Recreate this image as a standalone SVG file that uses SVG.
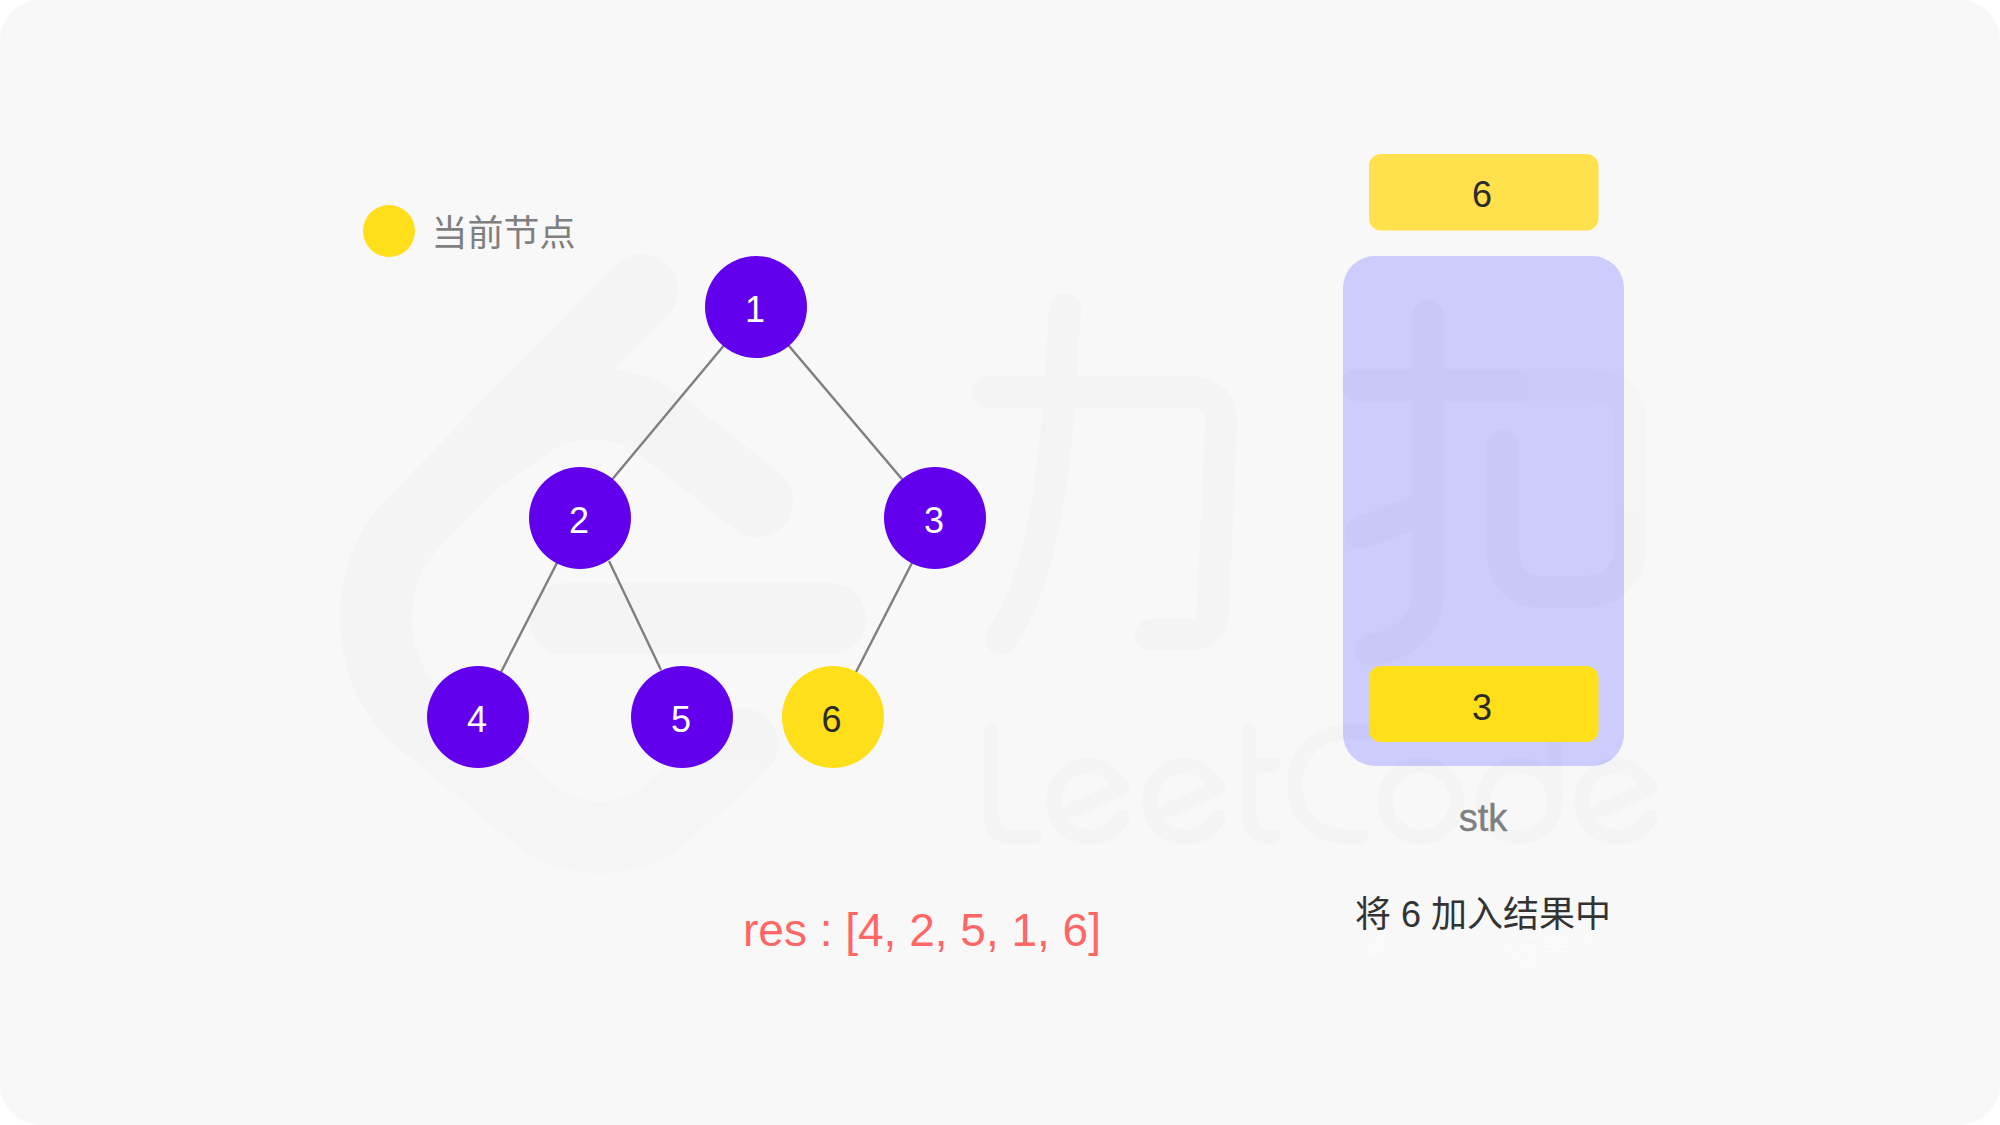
<svg xmlns="http://www.w3.org/2000/svg" width="2000" height="1125" viewBox="0 0 2000 1125">
<style>
.wm{fill:none;stroke:#000;stroke-linecap:round;stroke-linejoin:round}
.edge{stroke:#7f7f7f;stroke-width:2.4;fill:none}
.t{font-family:"Liberation Sans","Noto Sans CJK SC",sans-serif;text-anchor:middle}
.n{font-size:36px;fill:#fff}
.d{font-size:36px;fill:#2b2b2b}
.purple{fill:#6200ee}
.yellow{fill:#ffde1a}
</style>
<rect width="2000" height="1125" fill="#fff"/>
<rect id="background" width="2000" height="1125" rx="40" fill="#f8f8f8"/>
<g id="stack-body"><rect x="1343" y="256" width="281" height="510" rx="32" fill="#ccccfd"/></g>
<g id="watermark" opacity="0.013">
<g class="wm" stroke-width="72">
<path d="M642 290L412 524C364 572 364 664 412 712L530 810C570 847 630 847 670 810L742 744"/>
<path d="M757 501L672 434C630 395 565 395 530 422L490 450"/>
<path d="M565 619H830"/>
</g>
<g class="wm" stroke-width="32">
<path d="M988 392H1190Q1222 392 1221 425L1213 610Q1212 635 1190 635H1151"/>
<path d="M1065 309L1058 416C1050 510 1035 590 1001 638"/>
<path d="M1361 533L1428 507"/>
<path d="M1428 316V590Q1428 640 1371 650"/>
<path d="M1357 385H1590Q1631 385 1631 425V540Q1631 592 1580 592H1545Q1503 592 1503 550V446"/>
</g>
<g class="wm" stroke-width="15">
<path d="M991 732V814Q991 837 1012 837H1034"/>
<path id="e1" d="M1068 812L1122 788C1112 772 1102 765 1089 765C1068 765 1054 781 1054 801C1054 821 1068 837 1089 837C1105 837 1116 830 1122 817"/>
<path d="M1164 812L1218 788C1208 772 1198 765 1185 765C1164 765 1150 781 1150 801C1150 821 1164 837 1185 837C1201 837 1212 830 1218 817"/>
<path d="M1249 732V814Q1249 837 1270 837H1273M1249 765H1273"/>
<path d="M1368 732H1350C1315 732 1295 755 1295 785C1295 815 1315 837 1350 837H1361"/>
<circle cx="1421" cy="801" r="36"/>
<circle cx="1519" cy="801" r="36"/>
<path d="M1555 732V801"/>
<path d="M1596 812L1650 788C1640 772 1630 765 1617 765C1596 765 1582 781 1582 801C1582 821 1596 837 1617 837C1633 837 1644 830 1650 817"/>
</g>
</g>
<g id="connectors">
<line class="edge" x1="756" y1="307" x2="580" y2="518"/>
<line class="edge" x1="756" y1="307" x2="935" y2="518"/>
<line class="edge" x1="580" y1="518" x2="478" y2="717"/>
<line class="edge" x1="609" y1="561" x2="661" y2="670"/>
<line class="edge" x1="935" y1="518" x2="833" y2="717"/>
</g>
<g id="node-1"><circle class="purple" cx="756" cy="307" r="51"/><text class="t n" x="755" y="322">1</text></g>
<g id="node-2"><circle class="purple" cx="580" cy="518" r="51"/><text class="t n" x="579" y="533">2</text></g>
<g id="node-3"><circle class="purple" cx="935" cy="518" r="51"/><text class="t n" x="934" y="533">3</text></g>
<g id="node-4"><circle class="purple" cx="478" cy="717" r="51"/><text class="t n" x="477" y="732">4</text></g>
<g id="node-5"><circle class="purple" cx="682" cy="717" r="51"/><text class="t n" x="681" y="732">5</text></g>
<g id="node-6"><circle class="yellow" cx="833" cy="717" r="51"/><text class="t d" x="831.500" y="732">6</text></g>
<g id="legend"><circle class="yellow" cx="389" cy="231" r="26"/><text class="t" x="503.500" y="246" font-size="36" fill="#7f7f7f">当前节点</text></g>
<g id="stack-top"><rect x="1369" y="154" width="229.500" height="76.500" rx="12" fill="#ffe14d"/><text class="t d" x="1482" y="207">6</text></g>
<g id="stack-bottom"><rect x="1369" y="666" width="229.500" height="76" rx="12" fill="#ffde1a"/><text class="t d" x="1482" y="720">3</text></g>
<text class="t" x="1483" y="831" font-size="38" fill="#7f7f7f" stroke="#7f7f7f" stroke-width="0.4">stk</text>
<text class="t" x="922" y="946" font-size="46" fill="#ff6666">res : [4, 2, 5, 1, 6]</text>
<text class="t" x="1483" y="927" font-size="36" fill="#333">将 6 加入结果中</text>
<text class="t" x="1483" y="963" font-size="36" fill="none" stroke="#fff" stroke-width="0.35">将 6 加入结果中</text>
</svg>
